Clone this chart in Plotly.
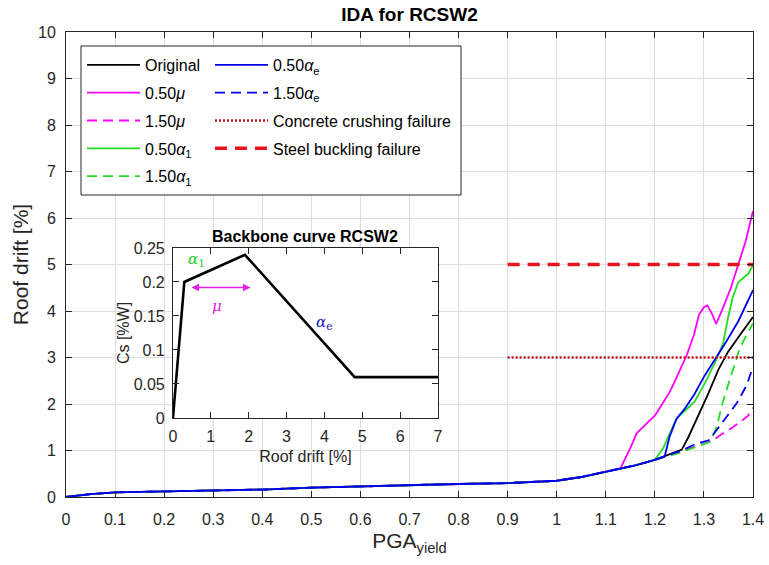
import plotly.graph_objects as go

FONT = "Liberation Sans, Arial, Helvetica, sans-serif"
AX = "#262626"

# ---------------- data ----------------
base_x = [0, 0.05, 0.1, 0.2, 0.3, 0.4, 0.5, 0.6, 0.7, 0.8, 0.9, 1.0, 1.05, 1.1, 1.13]
base_y = [0, 0.06, 0.10, 0.12, 0.14, 0.16, 0.20, 0.23, 0.25, 0.28, 0.30, 0.35, 0.43, 0.55, 0.62]

orig_x = base_x + [1.16, 1.2, 1.255, 1.268, 1.29, 1.308, 1.329, 1.349, 1.373, 1.4]
orig_y = base_y + [0.68, 0.8, 1.02, 1.28, 1.78, 2.2, 2.73, 3.12, 3.48, 3.87]

mu050_x = base_x + [1.15, 1.163, 1.185, 1.2, 1.215, 1.23, 1.25, 1.265, 1.28, 1.29, 1.3, 1.307,
                    1.316, 1.325, 1.34, 1.355, 1.37, 1.385, 1.4]
mu050_y = base_y + [1.05, 1.37, 1.6, 1.75, 2.0, 2.25, 2.7, 3.05, 3.5, 3.92, 4.08, 4.12,
                    3.95, 3.72, 4.1, 4.5, 5.0, 5.5, 6.15]

mu150_x = base_x + [1.16, 1.2, 1.25, 1.29, 1.315, 1.336, 1.356, 1.376, 1.39, 1.4]
mu150_y = base_y + [0.68, 0.8, 0.97, 1.1, 1.2, 1.35, 1.48, 1.63, 1.75, 1.92]

a1050_x = base_x + [1.16, 1.2, 1.217, 1.234, 1.245, 1.261, 1.281, 1.302, 1.322, 1.339, 1.349,
                    1.359, 1.37, 1.39, 1.4]
a1050_y = base_y + [0.68, 0.8, 1.05, 1.45, 1.7, 1.85, 2.05, 2.45, 2.88, 3.3, 3.85,
                    4.3, 4.62, 4.8, 4.98]

a1150_x = base_x + [1.16, 1.2, 1.25, 1.29, 1.312, 1.326, 1.336, 1.346, 1.36, 1.373, 1.39, 1.4]
a1150_y = base_y + [0.68, 0.8, 0.95, 1.1, 1.18, 1.5, 1.95, 2.3, 2.75, 3.2, 3.55, 3.73]

ae050_x = base_x + [1.16, 1.2, 1.22, 1.23, 1.244, 1.261, 1.28, 1.302, 1.322, 1.346, 1.37, 1.387, 1.4]
ae050_y = base_y + [0.68, 0.8, 0.87, 1.3, 1.68, 1.9, 2.2, 2.62, 2.95, 3.35, 3.78, 4.15, 4.45]

ae150_x = base_x + [1.16, 1.2, 1.255, 1.285, 1.31, 1.326, 1.346, 1.367, 1.387, 1.4]
ae150_y = base_y + [0.68, 0.8, 1.0, 1.15, 1.22, 1.44, 1.73, 2.02, 2.4, 2.8]

fail_x = [0.9, 1.4]
crush_y = [3, 3]
buckle_y = [5, 5]

backbone_x = [0, 0.3, 1.9, 4.8, 7]
backbone_y = [0, 0.2, 0.24, 0.06, 0.06]

x_ticks = [0, 0.1, 0.2, 0.3, 0.4, 0.5, 0.6, 0.7, 0.8, 0.9, 1.0, 1.1, 1.2, 1.3, 1.4]
x_tick_labels = ["0", "0.1", "0.2", "0.3", "0.4", "0.5", "0.6", "0.7", "0.8", "0.9",
                 "1", "1.1", "1.2", "1.3", "1.4"]
y_ticks = [0, 1, 2, 3, 4, 5, 6, 7, 8, 9, 10]
inset_x_ticks = [0, 1, 2, 3, 4, 5, 6, 7]
inset_y_ticks = [0, 0.05, 0.1, 0.15, 0.2, 0.25]
inset_y_labels = ["0", "0.05", "0.1", "0.15", "0.2", "0.25"]

# ---------------- figure ----------------
fig = go.Figure()

series = [
    ("Original", orig_x, orig_y, "#000000", "solid", "legend"),
    ("0.50<i>μ</i>", mu050_x, mu050_y, "#FF00FF", "solid", "legend"),
    ("1.50<i>μ</i>", mu150_x, mu150_y, "#FF00FF", "10px,6px", "legend"),
    ("0.50<i>α</i><sub>1</sub>", a1050_x, a1050_y, "#22DD22", "solid", "legend"),
    ("1.50<i>α</i><sub>1</sub>", a1150_x, a1150_y, "#22DD22", "10px,6px", "legend"),
    ("0.50<i>α</i><sub>e</sub>", ae050_x, ae050_y, "#0000EE", "solid", "legend2"),
    ("1.50<i>α</i><sub>e</sub>", ae150_x, ae150_y, "#0000EE", "10px,6px", "legend2"),
]
for i, (name, xs, ys, col, dash, lg) in enumerate(series):
    fig.add_trace(go.Scatter(x=xs, y=ys, mode="lines", name=name, legend=lg,
                             legendgroup="g%d" % i,
                             line=dict(color=col, width=1.8, dash=dash)))

fig.add_trace(go.Scatter(x=fail_x, y=crush_y, mode="lines", name="Concrete crushing failure",
                         legend="legend2", legendgroup="g7",
                         line=dict(color="#C0101A", width=2.6, dash="2px,2px")))
fig.add_trace(go.Scatter(x=fail_x, y=buckle_y, mode="lines", name="Steel buckling failure",
                         legend="legend2", legendgroup="g8",
                         line=dict(color="#E8141C", width=3.6, dash="12px,8px")))

# inset backbone curve
fig.add_trace(go.Scatter(x=backbone_x, y=backbone_y, mode="lines", xaxis="x2", yaxis="y2",
                         showlegend=False, line=dict(color="#000000", width=2.6)))

axis_common = dict(showline=True, linecolor=AX, linewidth=1, ticks="inside", ticklen=6,
                   tickcolor=AX, tickfont=dict(family=FONT, size=16, color=AX),
                   zeroline=False, automargin=False)

fig.update_layout(
    width=769, height=565,
    margin=dict(l=66, r=16, t=32, b=68),
    paper_bgcolor="white", plot_bgcolor="white",
    font=dict(family=FONT, color="#000"),
    title=dict(text="<b>IDA for RCSW2</b>", x=0.5, xref="paper", xanchor="center",
               y=1 - 14 / 565, yanchor="middle", font=dict(size=19, color="#000"),
               automargin=False),
    xaxis=dict(range=[0, 1.4], tickvals=x_ticks, ticktext=x_tick_labels, mirror="ticks",
               showgrid=True, gridcolor="#DEDEDE", ticklabelstandoff=8,
               title=dict(text="PGA<sub>yield</sub>", font=dict(size=21, color=AX), standoff=6),
               **axis_common),
    yaxis=dict(range=[0, 10], tickvals=y_ticks, mirror="ticks",
               showgrid=True, gridcolor="#DEDEDE", ticklabelstandoff=6,
               title=dict(text="Roof drift [%]", font=dict(size=21, color=AX), standoff=3),
               **axis_common),
    xaxis2=dict(domain=[0.1557, 0.5415], anchor="y2", range=[0, 7], tickvals=inset_x_ticks,
                mirror="ticks", showgrid=False, ticklabelstandoff=4,
                title=dict(text="Roof drift [%]", font=dict(size=16, color=AX), standoff=6),
                **axis_common),
    yaxis2=dict(domain=[0.170, 0.5355], anchor="x2", range=[0, 0.25], tickvals=inset_y_ticks,
                ticktext=inset_y_labels, mirror="ticks", showgrid=False, ticklabelstandoff=4,
                title=dict(text="Cs [%W]", font=dict(size=16, color=AX), standoff=0),
                **axis_common),
    legend=dict(x=(82 - 66) / 687, y=(497 - 48) / 465, xanchor="left", yanchor="top",
                bgcolor="rgba(0,0,0,0)", borderwidth=0, itemwidth=53, tracegroupgap=4,
                traceorder="grouped", font=dict(family=FONT, size=16, color="#000")),
    legend2=dict(x=(210 - 66) / 687, y=(497 - 48) / 465, xanchor="left", yanchor="top",
                 bgcolor="rgba(0,0,0,0)", borderwidth=0, itemwidth=53, tracegroupgap=4,
                 traceorder="grouped", font=dict(family=FONT, size=16, color="#000")),
    showlegend=True,
)

# legend frame
fig.add_shape(type="rect", xref="paper", yref="paper",
              x0=(81 - 66) / 687, x1=(461 - 66) / 687,
              y0=(497 - 195) / 465, y1=(497 - 46) / 465,
              fillcolor="white", line=dict(color="#262626", width=1), layer="above")

# inset title and annotations
fig.add_annotation(text="<b>Backbone curve RCSW2</b>", xref="paper", yref="paper",
                   x=0.3486, y=(497 - 236) / 465, showarrow=False, xanchor="center",
                   yanchor="middle", font=dict(family=FONT, size=16, color="#000"))
fig.add_annotation(text="<i>α</i><sub>1</sub>", xref="x2", yref="y2", x=0.62, y=0.233,
                   showarrow=False, font=dict(family="DejaVu Serif", size=15, color="#22CC22"))
fig.add_annotation(text="<i>μ</i>", xref="x2", yref="y2", x=1.17, y=0.165,
                   showarrow=False, font=dict(family="DejaVu Serif", size=15, color="#E020E0"))
fig.add_annotation(text="<i>α</i><sub>e</sub>", xref="x2", yref="y2", x=4.0, y=0.14,
                   showarrow=False, font=dict(family="DejaVu Serif", size=15, color="#2020C0"))
fig.add_annotation(text="", xref="x2", yref="y2", x=2.05, y=0.192, axref="x2", ayref="y2",
                   ax=0.45, ay=0.192, showarrow=True, arrowside="end+start", arrowhead=2,
                   startarrowhead=2, arrowwidth=1.5, arrowcolor="#E020E0")

fig.write_html("out.html", config={"displayModeBar": False},
               post_script="document.body.style.margin='0';document.body.style.overflow='hidden';")
